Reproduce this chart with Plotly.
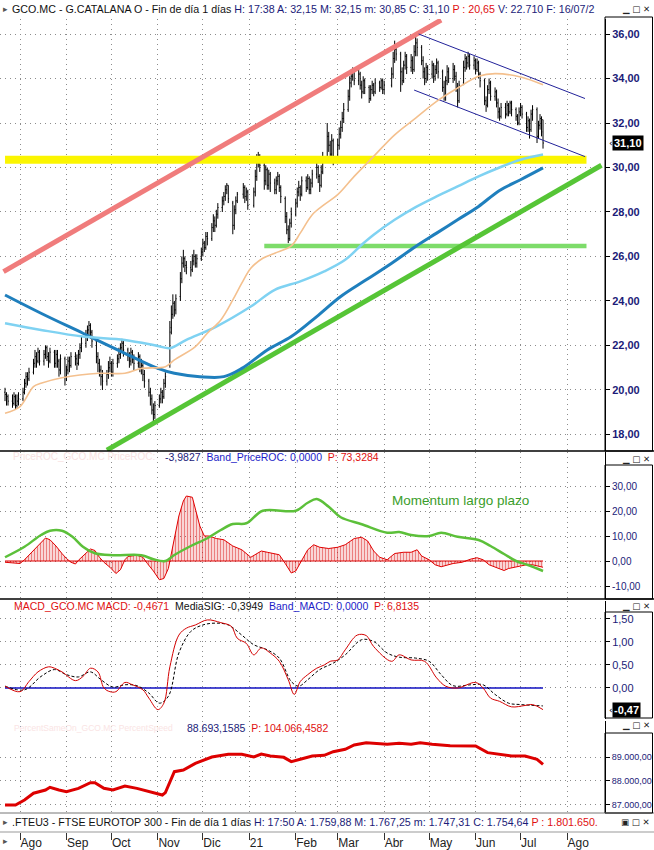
import pandas as pd
import plotly.graph_objects as go

# ------------------------------------------------------------------ data
holidays = ["2020-12-25", "2021-01-01", "2021-04-02", "2021-04-05"]
bar_dates = [d for d in pd.bdate_range("2020-07-22", "2021-07-16")
             if d.strftime("%Y-%m-%d") not in holidays]

opens = [
    19.9, 19.8, 19.7,
    19.5, 19.4, 19.7, 19.3, 19.5,
    19.6, 19.9, 20.3, 20.6, 20.5,
    20.8, 21.2, 21.5, 21.3, 21.7,
    21.3, 21.6, 21.9, 21.5, 21.3,
    21.7, 21.2, 21.6, 21.3, 20.9,
    21.4, 20.6, 20.9, 21.3, 21.1,
    21.5, 21.4, 21.2, 21.6, 21.9,
    22.1, 22.4, 22.7, 22.9, 22.6,
    22.2, 21.5, 21.2, 20.9, 20.6,
    20.4, 20.7, 21.0, 21.2, 20.8,
    21.2, 21.4, 21.6, 21.9, 22.1,
    21.8, 21.5, 21.3, 21.7, 21.4,
    21.2, 21.5, 21.0, 21.1, 20.7,
    20.4, 19.9, 19.6, 19.1, 18.9,
    19.3, 19.6, 19.9, 19.7, 20.3,
    21.2, 22.8, 23.4, 23.9, 23.6,
    24.2, 25.0, 25.7, 25.9, 25.6,
    25.5, 25.4, 25.8, 26.0, 25.7,
    25.9, 26.2, 26.6, 26.4, 26.9,
    26.8, 27.3, 27.6, 27.4, 27.9,
    28.2, 28.5, 28.7, 29.0, 29.2,
    28.4, 27.4, 28.1, 28.5,
    28.8, 29.1, 28.7, 28.9,
    28.3, 28.9, 29.6, 30.3, 30.5,
    30.1, 29.4, 29.9, 29.2, 29.7,
    29.3, 29.0, 29.4, 29.6, 29.1,
    28.6, 27.8, 27.2, 26.8, 27.5,
    27.9, 28.4, 28.9, 29.1, 28.8,
    29.4, 29.1, 29.5, 29.0, 29.3,
    29.7, 30.0, 29.6, 29.2, 29.8,
    30.4, 31.4, 31.0, 30.6, 31.2,
    30.5, 31.0, 31.5, 31.8, 32.2,
    32.6, 33.2, 33.8, 34.1, 34.3,
    33.9, 34.2, 33.7, 33.4, 33.9,
    33.6, 33.1, 33.5, 33.7, 33.4,
    33.8, 33.6, 33.9, 33.5,
    33.7, 34.2, 34.9, 35.3,
    35.1, 34.3, 33.9, 34.6, 35.0,
    34.5, 34.8, 34.4, 35.2, 35.6,
    35.4, 34.8, 34.3, 34.0, 34.5,
    34.2, 34.6, 34.1, 34.4, 34.7,
    34.3, 33.6, 33.2, 33.9, 34.3,
    34.0, 34.4, 34.1, 33.6, 33.0,
    33.8, 34.5, 34.9, 34.7, 35.0,
    34.6, 34.8, 34.4, 34.7, 34.2,
    33.9, 33.0, 32.8, 33.5, 33.8,
    33.2, 33.4, 32.9, 32.5, 32.3,
    32.7, 32.4, 32.8, 32.5, 32.9,
    32.6, 32.3, 32.0, 32.5, 32.7,
    32.4, 31.8, 32.1, 31.7, 32.4,
    32.6, 31.4, 31.9, 32.2, 32.15,
]
highs = [
    20.1, 19.9, 19.8,
    19.8, 19.9, 19.8, 19.8, 19.9,
    20.1, 20.5, 20.8, 20.8, 21.0,
    21.4, 21.8, 21.7, 21.9, 21.8,
    21.8, 22.0, 22.0, 21.7, 21.9,
    21.8, 21.8, 21.8, 21.4, 21.6,
    21.5, 21.1, 21.5, 21.5, 21.7,
    21.7, 21.6, 21.8, 22.1, 22.4,
    22.7, 22.9, 23.1, 23.0, 22.7,
    22.3, 21.7, 21.4, 21.1, 20.9,
    20.9, 21.3, 21.5, 21.3, 21.4,
    21.6, 21.9, 22.1, 22.3, 22.2,
    21.9, 21.7, 21.9, 21.8, 21.6,
    21.7, 21.6, 21.4, 21.2, 20.9,
    20.5, 20.1, 19.8, 19.4, 19.5,
    19.8, 20.1, 20.0, 20.5, 20.8,
    23.1, 23.8, 24.3, 24.0, 24.3,
    25.3, 26.0, 26.3, 26.0, 25.8,
    25.8, 26.1, 26.3, 26.1, 26.1,
    26.4, 26.8, 26.7, 27.1, 27.1,
    27.5, 27.9, 27.8, 28.1, 28.4,
    28.7, 28.9, 29.2, 29.3, 29.2,
    28.5, 28.3, 28.7, 28.9,
    29.3, 29.2, 29.1, 29.0,
    29.1, 29.9, 30.6, 30.7, 30.6,
    30.2, 30.1, 30.0, 29.9, 29.8,
    29.5, 29.6, 29.8, 29.7, 29.2,
    28.7, 28.0, 27.4, 27.7, 28.2,
    28.6, 29.1, 29.4, 29.2, 29.6,
    29.6, 29.7, 29.6, 29.5, 29.9,
    30.3, 30.1, 29.7, 30.1, 30.7,
    32.0, 31.6, 31.2, 31.5, 31.3,
    31.3, 31.8, 32.1, 32.5, 32.9,
    33.5, 34.1, 34.4, 34.5, 34.4,
    34.4, 34.3, 33.9, 34.1, 34.0,
    33.7, 33.7, 33.9, 33.8, 34.0,
    33.9, 34.0, 34.0, 33.9,
    34.5, 35.2, 35.7, 35.5,
    35.2, 34.5, 34.8, 35.2, 35.1,
    35.1, 35.0, 35.5, 35.9, 35.8,
    35.5, 35.0, 34.5, 34.7, 34.6,
    34.8, 34.7, 34.6, 34.9, 34.8,
    34.4, 33.9, 34.1, 34.6, 34.5,
    34.7, 34.6, 34.3, 33.8, 33.9,
    34.8, 35.1, 35.0, 35.2, 35.1,
    35.0, 34.9, 34.9, 34.8, 34.3,
    34.0, 33.2, 33.7, 34.0, 33.9,
    33.6, 33.5, 33.1, 32.7, 32.9,
    32.9, 33.0, 32.9, 33.0, 33.0,
    32.7, 32.4, 32.7, 32.9, 32.8,
    32.5, 32.3, 32.2, 32.6, 32.8,
    32.7, 32.1, 32.4, 32.3, 32.15,
]
lows = [
    19.5, 19.3, 19.3,
    19.2, 19.3, 19.1, 19.2, 19.3,
    19.5, 19.8, 20.1, 20.2, 20.4,
    20.7, 21.0, 21.0, 21.2, 21.1,
    21.1, 21.4, 21.3, 21.0, 21.2,
    21.0, 21.0, 21.0, 20.6, 20.7,
    20.2, 20.4, 20.7, 20.8, 21.0,
    21.1, 20.9, 21.1, 21.4, 21.7,
    21.9, 22.2, 22.4, 22.3, 21.9,
    21.2, 20.8, 20.6, 20.2, 20.0,
    20.2, 20.5, 20.8, 20.6, 20.6,
    21.0, 21.2, 21.4, 21.7, 21.5,
    21.3, 21.0, 21.1, 21.2, 20.9,
    21.0, 20.8, 20.7, 20.4, 20.1,
    19.7, 19.3, 18.9, 18.5, 18.7,
    19.2, 19.4, 19.4, 19.6, 20.1,
    21.0, 22.5, 23.2, 23.3, 23.4,
    24.0, 24.8, 25.5, 25.3, 25.2,
    25.1, 25.3, 25.6, 25.5, 25.5,
    25.8, 26.0, 26.2, 26.3, 26.5,
    26.7, 27.1, 27.1, 27.3, 27.7,
    28.0, 28.3, 28.5, 28.8, 28.4,
    27.0, 27.2, 27.9, 28.4,
    28.6, 28.4, 28.5, 28.1,
    28.2, 28.7, 29.4, 30.0, 29.8,
    29.0, 29.2, 29.0, 29.0, 28.9,
    28.8, 28.8, 29.2, 28.9, 28.4,
    27.5, 27.0, 26.6, 26.7, 27.3,
    27.8, 28.2, 28.7, 28.5, 28.7,
    28.9, 29.0, 28.8, 28.8, 29.1,
    29.5, 29.3, 28.9, 29.1, 29.7,
    30.3, 30.7, 30.2, 30.4, 30.1,
    30.4, 30.8, 31.3, 31.6, 32.0,
    32.5, 33.0, 33.6, 33.9, 33.7,
    33.7, 33.5, 33.1, 33.3, 33.3,
    32.9, 33.0, 33.3, 33.2, 33.3,
    33.4, 33.5, 33.3, 33.3,
    33.6, 34.0, 34.7, 34.8,
    33.4, 33.7, 33.8, 34.4, 34.2,
    34.3, 34.2, 34.3, 35.0, 35.0,
    34.6, 34.0, 33.7, 33.8, 33.9,
    34.0, 33.8, 33.9, 34.2, 34.0,
    33.4, 33.0, 33.0, 33.7, 33.8,
    33.8, 33.9, 33.4, 32.7, 32.9,
    33.7, 34.3, 34.4, 34.5, 34.4,
    34.4, 34.2, 34.3, 34.0, 33.6,
    32.8, 32.5, 32.7, 33.3, 33.0,
    33.0, 32.7, 32.2, 32.1, 32.2,
    32.2, 32.3, 32.3, 32.4, 32.3,
    32.1, 31.9, 31.9, 32.3, 32.2,
    31.6, 31.6, 31.3, 31.6, 32.1,
    31.1, 31.3, 31.7, 31.4, 30.85,
]
closes = [
    19.8, 19.6, 19.5,
    19.4, 19.7, 19.3, 19.5, 19.6,
    19.9, 20.3, 20.6, 20.5, 20.8,
    21.2, 21.5, 21.3, 21.7, 21.3,
    21.6, 21.9, 21.5, 21.3, 21.7,
    21.2, 21.6, 21.3, 20.9, 21.4,
    20.6, 20.9, 21.3, 21.1, 21.5,
    21.4, 21.2, 21.6, 21.9, 22.1,
    22.4, 22.7, 22.9, 22.6, 22.2,
    21.5, 21.2, 20.9, 20.6, 20.4,
    20.7, 21.0, 21.2, 20.8, 21.2,
    21.4, 21.6, 21.9, 22.1, 21.8,
    21.5, 21.3, 21.7, 21.4, 21.2,
    21.5, 21.0, 21.1, 20.7, 20.4,
    19.9, 19.6, 19.1, 18.9, 19.3,
    19.6, 19.9, 19.7, 20.3, 20.6,
    22.6, 23.4, 23.9, 23.6, 24.1,
    25.0, 25.7, 25.9, 25.6, 25.5,
    25.4, 25.8, 26.0, 25.7, 25.9,
    26.2, 26.6, 26.4, 26.9, 26.8,
    27.3, 27.6, 27.4, 27.9, 28.2,
    28.5, 28.7, 29.0, 29.2, 28.6,
    27.4, 28.1, 28.5, 28.8,
    29.1, 28.7, 28.9, 28.3,
    28.9, 29.6, 30.3, 30.5, 30.1,
    29.4, 29.9, 29.2, 29.7, 29.3,
    29.0, 29.4, 29.6, 29.1, 28.7,
    27.8, 27.2, 26.8, 27.5, 27.9,
    28.4, 28.9, 29.1, 28.8, 29.4,
    29.1, 29.5, 29.0, 29.3, 29.7,
    30.0, 29.6, 29.2, 29.8, 30.4,
    31.4, 31.0, 30.6, 31.2, 30.5,
    31.0, 31.5, 31.8, 32.2, 32.6,
    33.2, 33.8, 34.1, 34.3, 33.9,
    34.2, 33.7, 33.4, 33.9, 33.6,
    33.1, 33.5, 33.7, 33.4, 33.8,
    33.6, 33.9, 33.5, 33.7,
    34.2, 34.9, 35.3, 35.1,
    34.3, 33.9, 34.6, 35.0, 34.5,
    34.8, 34.4, 35.2, 35.6, 35.4,
    34.8, 34.3, 34.0, 34.5, 34.2,
    34.6, 34.1, 34.4, 34.7, 34.3,
    33.6, 33.2, 33.9, 34.3, 34.0,
    34.4, 34.1, 33.6, 33.0, 33.7,
    34.5, 34.9, 34.7, 35.0, 34.6,
    34.8, 34.4, 34.7, 34.2, 33.9,
    33.0, 32.8, 33.5, 33.8, 33.2,
    33.4, 32.9, 32.5, 32.3, 32.7,
    32.4, 32.8, 32.5, 32.9, 32.6,
    32.3, 32.0, 32.5, 32.7, 32.4,
    31.8, 32.1, 31.7, 32.4, 32.6,
    31.4, 31.9, 32.2, 31.6, 31.10,
]

# moving averages (date, value)
ma_short = [("2020-07-22", 18.95), ("2020-08-01", 19.25), ("2020-08-10", 20.15), ("2020-08-15", 20.3),
            ("2020-08-29", 20.55), ("2020-09-23", 20.75), ("2020-10-10", 20.75), ("2020-10-21", 20.97),
            ("2020-11-06", 21.05), ("2020-11-12", 21.35), ("2020-11-26", 21.95), ("2020-12-04", 22.55),
            ("2020-12-13", 23.15), ("2020-12-21", 24.05), ("2020-12-27", 24.8), ("2021-01-02", 25.47),
            ("2021-01-10", 25.92), ("2021-01-18", 26.15), ("2021-01-29", 26.48), ("2021-02-04", 27.05),
            ("2021-02-12", 27.88), ("2021-02-20", 28.33), ("2021-03-01", 28.78), ("2021-03-12", 29.6),
            ("2021-03-25", 30.5), ("2021-04-08", 31.47), ("2021-04-22", 32.22), ("2021-05-06", 32.97),
            ("2021-05-20", 33.57), ("2021-06-03", 34.1), ("2021-06-14", 34.22), ("2021-07-01", 34.07),
            ("2021-07-16", 33.72)]
ma_mid = [("2020-07-22", 23.0), ("2020-08-15", 22.7), ("2020-09-12", 22.4), ("2020-10-10", 22.25),
          ("2020-11-01", 21.98), ("2020-11-09", 21.88), ("2020-11-20", 22.25), ("2020-12-10", 22.85),
          ("2021-01-02", 23.75), ("2021-01-18", 24.5), ("2021-02-04", 24.88), ("2021-02-20", 25.33),
          ("2021-03-06", 25.85), ("2021-03-17", 26.53), ("2021-03-25", 26.98), ("2021-04-08", 27.65),
          ("2021-04-22", 28.22), ("2021-05-06", 28.7), ("2021-05-20", 29.15), ("2021-06-03", 29.6),
          ("2021-06-17", 30.0), ("2021-07-01", 30.35), ("2021-07-16", 30.58)]
ma_long = [("2020-07-22", 24.27), ("2020-08-15", 23.45), ("2020-09-12", 22.55), ("2020-10-10", 21.65),
           ("2020-11-01", 20.97), ("2020-11-12", 20.75), ("2020-11-29", 20.6), ("2020-12-15", 20.6),
           ("2020-12-27", 20.97), ("2021-01-13", 21.8), ("2021-01-29", 22.4), ("2021-02-15", 23.3),
           ("2021-03-03", 24.2), ("2021-03-20", 24.95), ("2021-04-06", 25.7), ("2021-04-22", 26.45),
           ("2021-05-06", 27.05), ("2021-05-20", 27.65), ("2021-06-03", 28.25), ("2021-06-17", 28.97),
           ("2021-07-01", 29.45), ("2021-07-16", 29.98)]

# drawn trend lines (date, price)
resist_up = [("2020-07-21", 25.32), ("2021-05-09", 36.63)]
support_up = [("2020-09-28", 17.3), ("2021-08-24", 30.1)]
level_yellow = [("2020-07-22", 30.35), ("2021-08-14", 30.35)]
level_green = [("2021-01-11", 26.47), ("2021-08-14", 26.47)]
channel_top = [("2021-04-24", 36.0), ("2021-08-13", 33.1)]
channel_bot = [("2021-04-21", 33.48), ("2021-08-13", 30.49)]

# PriceROC panel
roc_hist = [("2020-07-22", -0.5), ("2020-07-28", -0.8), ("2020-08-01", -1.0), ("2020-08-04", 0.5),
            ("2020-08-08", 3), ("2020-08-14", 7), ("2020-08-18", 9.2), ("2020-08-21", 8.5),
            ("2020-08-25", 6), ("2020-08-29", 3), ("2020-09-01", 1), ("2020-09-04", -0.5),
            ("2020-09-07", -1.2), ("2020-09-09", 0.3), ("2020-09-13", 2.5), ("2020-09-17", 4.8),
            ("2020-09-20", 4.2), ("2020-09-23", 1.5), ("2020-09-26", -0.5), ("2020-09-30", -2.5),
            ("2020-10-04", -5.0), ("2020-10-07", -3.5), ("2020-10-10", 0.5), ("2020-10-12", 1.8),
            ("2020-10-18", 2.3), ("2020-10-22", 1.5), ("2020-10-25", -1), ("2020-10-29", -4),
            ("2020-11-02", -7.5), ("2020-11-05", -7), ("2020-11-08", -3), ("2020-11-10", 3),
            ("2020-11-12", 10), ("2020-11-15", 18), ("2020-11-18", 24), ("2020-11-20", 26),
            ("2020-11-24", 25.5), ("2020-11-26", 21), ("2020-11-29", 14), ("2020-12-02", 10),
            ("2020-12-05", 10), ("2020-12-10", 9), ("2020-12-15", 8.5), ("2020-12-21", 6),
            ("2020-12-27", 4.5), ("2021-01-02", 1.5), ("2021-01-06", 3), ("2021-01-09", 4),
            ("2021-01-13", 3.5), ("2021-01-18", 2.8), ("2021-01-21", 2.5), ("2021-01-25", -1),
            ("2021-01-29", -4.8), ("2021-02-01", -4), ("2021-02-04", -1), ("2021-02-09", 4.5),
            ("2021-02-13", 6.5), ("2021-02-17", 5.5), ("2021-02-23", 5), ("2021-03-01", 5.5),
            ("2021-03-06", 6.5), ("2021-03-12", 9), ("2021-03-17", 9.5), ("2021-03-21", 8),
            ("2021-03-25", 4), ("2021-03-29", 1.5), ("2021-04-03", 0.5), ("2021-04-08", 3),
            ("2021-04-14", 3.5), ("2021-04-19", 3.5), ("2021-04-23", 4.5), ("2021-04-26", 2),
            ("2021-05-01", 0.5), ("2021-05-05", -1.5), ("2021-05-09", -2.3), ("2021-05-13", -1.5),
            ("2021-05-17", -1.0), ("2021-05-23", -0.5), ("2021-05-29", 0.8), ("2021-06-02", 1.3),
            ("2021-06-06", 0.5), ("2021-06-10", -1.5), ("2021-06-14", -2.5), ("2021-06-20", -3.8),
            ("2021-06-23", -3), ("2021-06-27", -2.5), ("2021-07-01", -2), ("2021-07-05", -1.5),
            ("2021-07-09", -1.5), ("2021-07-13", -2.2), ("2021-07-16", -2.5)]
momentum = [("2020-07-22", 1.5), ("2020-08-04", 5.7), ("2020-08-15", 10.4), ("2020-08-21", 12.1),
            ("2020-08-29", 12.1), ("2020-09-05", 9.7), ("2020-09-12", 5.7), ("2020-09-20", 3.1),
            ("2020-10-02", 2.3), ("2020-10-21", 2.3), ("2020-10-29", 0.7), ("2020-11-06", 0.0),
            ("2020-11-12", 2.4), ("2020-11-23", 6.0), ("2020-12-04", 9.1), ("2020-12-13", 12.4),
            ("2020-12-21", 14.8), ("2020-12-30", 15.1), ("2021-01-10", 20.1), ("2021-02-01", 20.1),
            ("2021-02-09", 23.3), ("2021-02-15", 24.8), ("2021-02-23", 21.7), ("2021-03-03", 17.5),
            ("2021-03-17", 14.7), ("2021-04-03", 11.3), ("2021-04-11", 11.6), ("2021-04-19", 10.4),
            ("2021-05-01", 10.0), ("2021-05-09", 11.3), ("2021-05-20", 9.7), ("2021-06-03", 8.4),
            ("2021-06-11", 6.0), ("2021-06-20", 2.8), ("2021-06-28", 0.0), ("2021-07-06", -1.6),
            ("2021-07-16", -4.0)]

# MACD panel
macd = [("2020-07-22", 0.04), ("2020-08-01", -0.08), ("2020-08-07", 0.14), ("2020-08-13", 0.35),
        ("2020-08-20", 0.46), ("2020-08-24", 0.43), ("2020-08-29", 0.35), ("2020-09-07", 0.16),
        ("2020-09-12", 0.25), ("2020-09-17", 0.43), ("2020-09-22", 0.35), ("2020-09-26", 0.0),
        ("2020-09-30", -0.08), ("2020-10-04", -0.08), ("2020-10-10", 0.12), ("2020-10-15", 0.07),
        ("2020-10-22", -0.04), ("2020-10-26", -0.22), ("2020-11-01", -0.47), ("2020-11-05", -0.33),
        ("2020-11-09", 0.46), ("2020-11-15", 1.15), ("2020-11-20", 1.30), ("2020-11-26", 1.37),
        ("2020-12-04", 1.48), ("2020-12-13", 1.42), ("2020-12-20", 1.34), ("2020-12-24", 1.08),
        ("2020-12-30", 0.97), ("2021-01-04", 0.72), ("2021-01-09", 0.87), ("2021-01-15", 0.76),
        ("2021-01-21", 0.58), ("2021-01-27", 0.18), ("2021-01-31", -0.14), ("2021-02-04", 0.14),
        ("2021-02-09", 0.29), ("2021-02-15", 0.43), ("2021-02-20", 0.50), ("2021-02-24", 0.58),
        ("2021-03-01", 0.61), ("2021-03-06", 0.83), ("2021-03-14", 1.15), ("2021-03-20", 1.14),
        ("2021-03-25", 0.90), ("2021-04-06", 0.58), ("2021-04-11", 0.72), ("2021-04-19", 0.61),
        ("2021-04-28", 0.58), ("2021-05-06", 0.22), ("2021-05-12", 0.04), ("2021-05-20", 0.0),
        ("2021-06-01", 0.12), ("2021-06-06", 0.0), ("2021-06-11", -0.22), ("2021-06-17", -0.29),
        ("2021-06-25", -0.41), ("2021-07-04", -0.38), ("2021-07-09", -0.36), ("2021-07-16", -0.47)]
signal = [("2020-07-22", 0.04), ("2020-08-04", -0.04), ("2020-08-15", 0.25), ("2020-08-24", 0.40),
          ("2020-09-01", 0.29), ("2020-09-09", 0.24), ("2020-09-17", 0.35), ("2020-09-24", 0.18),
          ("2020-10-02", 0.02), ("2020-10-10", 0.07), ("2020-10-18", 0.05), ("2020-10-26", -0.11),
          ("2020-11-02", -0.33), ("2020-11-08", -0.18), ("2020-11-15", 0.76), ("2020-11-23", 1.23),
          ("2020-12-01", 1.37), ("2020-12-10", 1.41), ("2020-12-18", 1.37), ("2020-12-27", 1.15),
          ("2021-01-04", 0.94), ("2021-01-13", 0.83), ("2021-01-21", 0.65), ("2021-01-29", 0.14),
          ("2021-02-03", 0.04), ("2021-02-09", 0.18), ("2021-02-17", 0.40), ("2021-02-26", 0.54),
          ("2021-03-06", 0.72), ("2021-03-17", 1.05), ("2021-03-25", 1.01), ("2021-04-03", 0.76),
          ("2021-04-11", 0.67), ("2021-04-22", 0.65), ("2021-05-01", 0.58), ("2021-05-09", 0.29),
          ("2021-05-17", 0.05), ("2021-05-29", 0.07), ("2021-06-06", 0.07), ("2021-06-14", -0.14),
          ("2021-06-23", -0.33), ("2021-07-01", -0.36), ("2021-07-16", -0.39)]

# PercentSpeed panel
pct = [("2020-07-22", 87000), ("2020-07-29", 87000), ("2020-08-04", 87210), ("2020-08-10", 87490),
       ("2020-08-18", 87625), ("2020-08-21", 87736), ("2020-08-27", 87625), ("2020-09-01", 87556),
       ("2020-09-09", 87694), ("2020-09-17", 87931), ("2020-09-20", 87931), ("2020-09-26", 87694),
       ("2020-10-02", 87625), ("2020-10-10", 87792), ("2020-10-18", 87694), ("2020-10-26", 87556),
       ("2020-11-04", 87417), ("2020-11-06", 87514), ("2020-11-12", 88389), ("2020-11-18", 88458),
       ("2020-11-26", 88736), ("2020-12-07", 89000), ("2020-12-18", 89111), ("2020-12-27", 89111),
       ("2021-01-04", 89000), ("2021-01-09", 89125), ("2021-01-15", 89042), ("2021-01-24", 88986),
       ("2021-01-29", 88806), ("2021-02-04", 88903), ("2021-02-12", 89042), ("2021-02-20", 89069),
       ("2021-02-26", 89222), ("2021-03-06", 89319), ("2021-03-12", 89500), ("2021-03-20", 89597),
       ("2021-03-25", 89569), ("2021-04-03", 89528), ("2021-04-11", 89569), ("2021-04-19", 89528),
       ("2021-04-25", 89597), ("2021-05-03", 89528), ("2021-05-15", 89472), ("2021-06-01", 89458),
       ("2021-06-09", 89181), ("2021-06-17", 89125), ("2021-06-25", 89042), ("2021-07-04", 89042),
       ("2021-07-12", 88903), ("2021-07-16", 88693)]

month_ticks = ["2020-08-01", "2020-09-01", "2020-10-01", "2020-11-01", "2020-12-01", "2021-01-01",
               "2021-02-01", "2021-03-01", "2021-04-01", "2021-05-01", "2021-06-01", "2021-07-01",
               "2021-08-01"]
month_labels = ["Ago", "Sep", "Oct", "Nov", "Dic", "21", "Feb", "Mar", "Abr", "May", "Jun", "Jul", "Ago"]

price_ticks = [18, 20, 22, 24, 26, 28, 30, 32, 34, 36]
roc_ticks = [-10, 0, 10, 20, 30]
macd_ticks = [0, 0.5, 1.0, 1.5]
pct_ticks = [87000, 88000, 89000]

# ------------------------------------------------------------------ helpers
W, H = 654, 850
PW = 605  # plot-area width in px


def xs(pts):
    return [p[0] for p in pts]


def ys(pts):
    return [p[1] for p in pts]


def fy(pix):
    return 1 - pix / H


def fx(pix):
    return pix / PW


def es(v, nd=2):
    s = f"{v:,.{nd}f}"
    return s.replace(",", "X").replace(".", ",").replace("X", ".")


NAVY = "#1b1b78"
RED = "#e01010"
BLUE = "#1c1cc8"

fig = go.Figure()


def line(pts, color, width, yaxis="y", dash=None, shape="linear"):
    fig.add_trace(go.Scatter(x=xs(pts), y=ys(pts), mode="lines", yaxis=yaxis,
                             line=dict(color=color, width=width, dash=dash, shape=shape),
                             hoverinfo="skip", showlegend=False))


# main price panel
line(level_yellow, "#fbf500", 8)
line(resist_up, "#f07c7c", 5)
line(level_green, "#7ddc6a", 4.5)
line(support_up, "#56c536", 5)
line(channel_top, "#22229a", 1)
line(channel_bot, "#22229a", 1)

n = min(len(opens), len(highs), len(lows), len(closes), len(bar_dates))
fig.add_trace(go.Ohlc(x=bar_dates[:n], open=opens[:n], high=highs[:n], low=lows[:n], close=closes[:n],
                      increasing=dict(line=dict(color="#000000", width=1)),
                      decreasing=dict(line=dict(color="#000000", width=1)),
                      tickwidth=0.5, hoverinfo="skip", showlegend=False, yaxis="y"))

line(ma_long, "#1f7fbd", 3, shape="spline")
line(ma_mid, "#7fd2f2", 2.5, shape="spline")
line(ma_short, "#f4c08e", 1.6, shape="spline")

# ROC panel
fig.add_trace(go.Scatter(x=xs(roc_hist), y=ys(roc_hist), mode="lines", yaxis="y2", fill="tozeroy",
                         fillcolor="rgba(0,0,0,0)",
                         fillpattern=dict(shape="|", fgcolor="#d80000", bgcolor="rgba(255,255,255,0)",
                                          size=3, solidity=0.55),
                         line=dict(color="#e00000", width=1), hoverinfo="skip", showlegend=False))
line([(roc_hist[0][0], 0), (roc_hist[-1][0], 0)], "#e00000", 1, yaxis="y2")
line(momentum, "#5cc03a", 2.5, yaxis="y2", shape="spline")

# MACD panel
line([(macd[0][0], 0), (macd[-1][0], 0)], "#1010c0", 1.5, yaxis="y3")
line(signal, "#000000", 1, yaxis="y3", dash="3px,2px", shape="spline")
line(macd, "#d40000", 1, yaxis="y3", shape="spline")

# Percent panel
line(pct, "#dd0000", 3, yaxis="y4")

# ------------------------------------------------------------------ layout
grid = dict(showgrid=True, gridcolor="#8c8c8c", griddash="1px,4px", gridwidth=1)


def yax(dom, rng, ticks, labels, size=11, bold=False):
    d = dict(domain=[fy(dom[1]), fy(dom[0])], range=rng, anchor="x", side="right",
             tickvals=ticks, ticktext=labels, ticks="outside", ticklen=4, tickcolor="#000",
             showline=True, linecolor="#000", linewidth=1, zeroline=False, fixedrange=True,
             tickfont=dict(family="Liberation Sans", size=size, color=NAVY,
                           weight="bold" if bold else "normal"))
    d.update(grid)
    return d


fig.update_layout(
    width=W, height=H, margin=dict(l=0, r=W - PW, t=0, b=0),
    paper_bgcolor="white", plot_bgcolor="white", showlegend=False,
    xaxis=dict(type="date", range=["2020-07-18 15:41", "2021-08-26 08:29"], anchor="free",
               position=fy(832), tickvals=month_ticks, ticktext=month_labels, ticks="outside",
               ticklen=7, tickcolor="#333", ticklabelposition="outside right",
               tickfont=dict(family="Liberation Sans", size=12, color="#222"),
               showline=False, zeroline=False, rangeslider=dict(visible=False), fixedrange=True,
               **grid),
    yaxis=yax((19, 451), [17.258, 36.674], price_ticks, [es(v) for v in price_ticks], 11, True),
    yaxis2=yax((452, 599), [-15.2, 43.6], roc_ticks, [es(v) for v in roc_ticks], 10),
    yaxis3=yax((601, 719), [-0.674, 1.891], macd_ticks, [es(v) for v in macd_ticks], 11),
    yaxis4=yax((721, 812), [86708, 90500], pct_ticks, [es(v) for v in pct_ticks], 9),
)

# separators and axis boxes
shapes = []
for yp, c, w in [(451, "#000", 1.5), (599, "#000", 1.5), (813, "#777", 1), (832, "#999", 1)]:
    shapes.append(dict(type="line", xref="paper", yref="paper", x0=0, x1=W / PW, y0=fy(yp), y1=fy(yp),
                       line=dict(color=c, width=w)))
for top, bot in [(17, 451), (465, 599), (612, 718), (733, 813)]:
    shapes.append(dict(type="rect", xref="paper", yref="paper", x0=1, x1=fx(652.5), y0=fy(bot), y1=fy(top),
                       line=dict(color="#000", width=1)))
fig.update_layout(shapes=shapes)


def ann(xp, yp, text, size=11, color="#000", anchor="left", family="Liberation Sans", **kw):
    return dict(xref="paper", yref="paper", x=fx(xp), y=fy(yp), text=text, showarrow=False,
                xanchor=anchor, yanchor="middle", font=dict(family=family, size=size, color=color), **kw)


def span(t, c):
    return f'<span style="color:{c}">{t}</span>'


anns = [
    ann(1, 9, "▸", 9, "#555"),
    ann(10, 9, span("GCO.MC - G.CATALANA O - Fin de día 1 días ", "#111")
        + span("H: 17:38 A: 32,15 M: 32,15 m: 30,85 C: 31,10 ", NAVY)
        + span("P : 20,65", RED) + span(" V: 22.710 F: 16/07/2", NAVY), 10.7),
    ann(11, 457, "PriceROC_GCO.MC PriceROC:", 10, "#f8e2e2"),
    ann(163, 457, span("-3,9827  ", NAVY) + span("Band_PriceROC: 0,0000  ", BLUE)
        + span("P: 73,3284", RED), 10.5),
    ann(390, 501, "Momentum largo plazo", 13.5, "#3a9d2a"),
    ann(12, 606, span("MACD_GCO.MC MACD: -0,4671  ", RED) + span("MediaSIG: -0,3949  ", "#111")
        + span("Band_MACD: 0,0000  ", BLUE) + span("P: 6,8135", RED), 10.5),
    ann(12, 728, "PercentSameOn_GCO.MC PercentSpeed", 8.5, "#fae4e4"),
    ann(185, 728, span("88.693,1585  ", NAVY) + span("P: 104.066,4582", RED), 10.5),
    ann(1, 822, "▸", 9, "#555"),
    ann(10, 822, span(".FTEU3 - FTSE EUROTOP 300 - Fin de día 1 días ", "#111")
        + span("H: 17:50 A: 1.759,88 M: 1.767,25 m: 1.747,31 C: 1.754,64 ", NAVY)
        + span("P : 1.801.650.", RED), 10.7),
    ann(1, 841, "▸", 9, "#555"),
]
for yp, glyph in [(9, "▁ □ ✕"), (459, "▁ □ ✕"), (606, "▁ □ ✕"), (725, "▁ □ ✕"), (822, "▣ □ ✕")]:
    anns.append(ann(652, yp, glyph, 8.5, "#222", anchor="right", family="DejaVu Sans"))

# last-value markers
anns.append(dict(xref="paper", yref="y", x=fx(607), y=closes[n - 1], text="‹", showarrow=False,
                 xanchor="left", yanchor="middle", font=dict(family="DejaVu Sans", size=9, color="#000")))
anns.append(dict(xref="paper", yref="y", x=fx(612), y=closes[n - 1], text=es(closes[n - 1]), showarrow=False,
                 xanchor="left", yanchor="middle", bgcolor="#000", borderpad=1,
                 font=dict(family="Liberation Sans", size=11, color="#fff", weight="bold")))
anns.append(dict(xref="paper", yref="y3", x=fx(607), y=macd[-1][1], text="‹", showarrow=False,
                 xanchor="left", yanchor="middle", font=dict(family="DejaVu Sans", size=9, color="#000")))
anns.append(dict(xref="paper", yref="y3", x=fx(612), y=macd[-1][1], text=es(macd[-1][1]), showarrow=False,
                 xanchor="left", yanchor="middle", bgcolor="#000", borderpad=1,
                 font=dict(family="Liberation Sans", size=11, color="#fff", weight="bold")))
fig.update_layout(annotations=anns)

fig.write_html("out.html")
